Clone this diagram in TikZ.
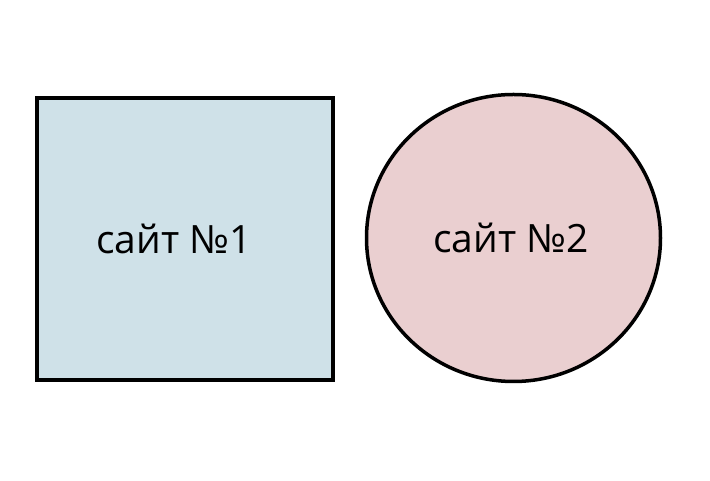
\documentclass[tikz,border=0pt]{standalone}
\usepackage{fontspec}
\setmainfont{Open Sans}
\usetikzlibrary{positioning,shapes.geometric}
\definecolor{SiteA}{HTML}{CFE1E8}
\definecolor{SiteB}{HTML}{EACFD0}

\begin{document}
\begin{tikzpicture}[x=1pt,y=1pt,font=\fontsize{39}{46}\selectfont,line width=3.5pt,node distance=30pt]
\useasboundingbox (0,0) rectangle (710,481);
\node[draw,fill=SiteA,minimum width=296pt,minimum height=282pt] (site1) at (185,242){сайт №1\hspace*{22pt}};
\node[draw,fill=SiteB,ellipse,minimum width=294pt,minimum height=287pt,right=of site1,yshift=1pt] (site2){сайт №2\hspace*{5pt}};
\end{tikzpicture}
\end{document}
